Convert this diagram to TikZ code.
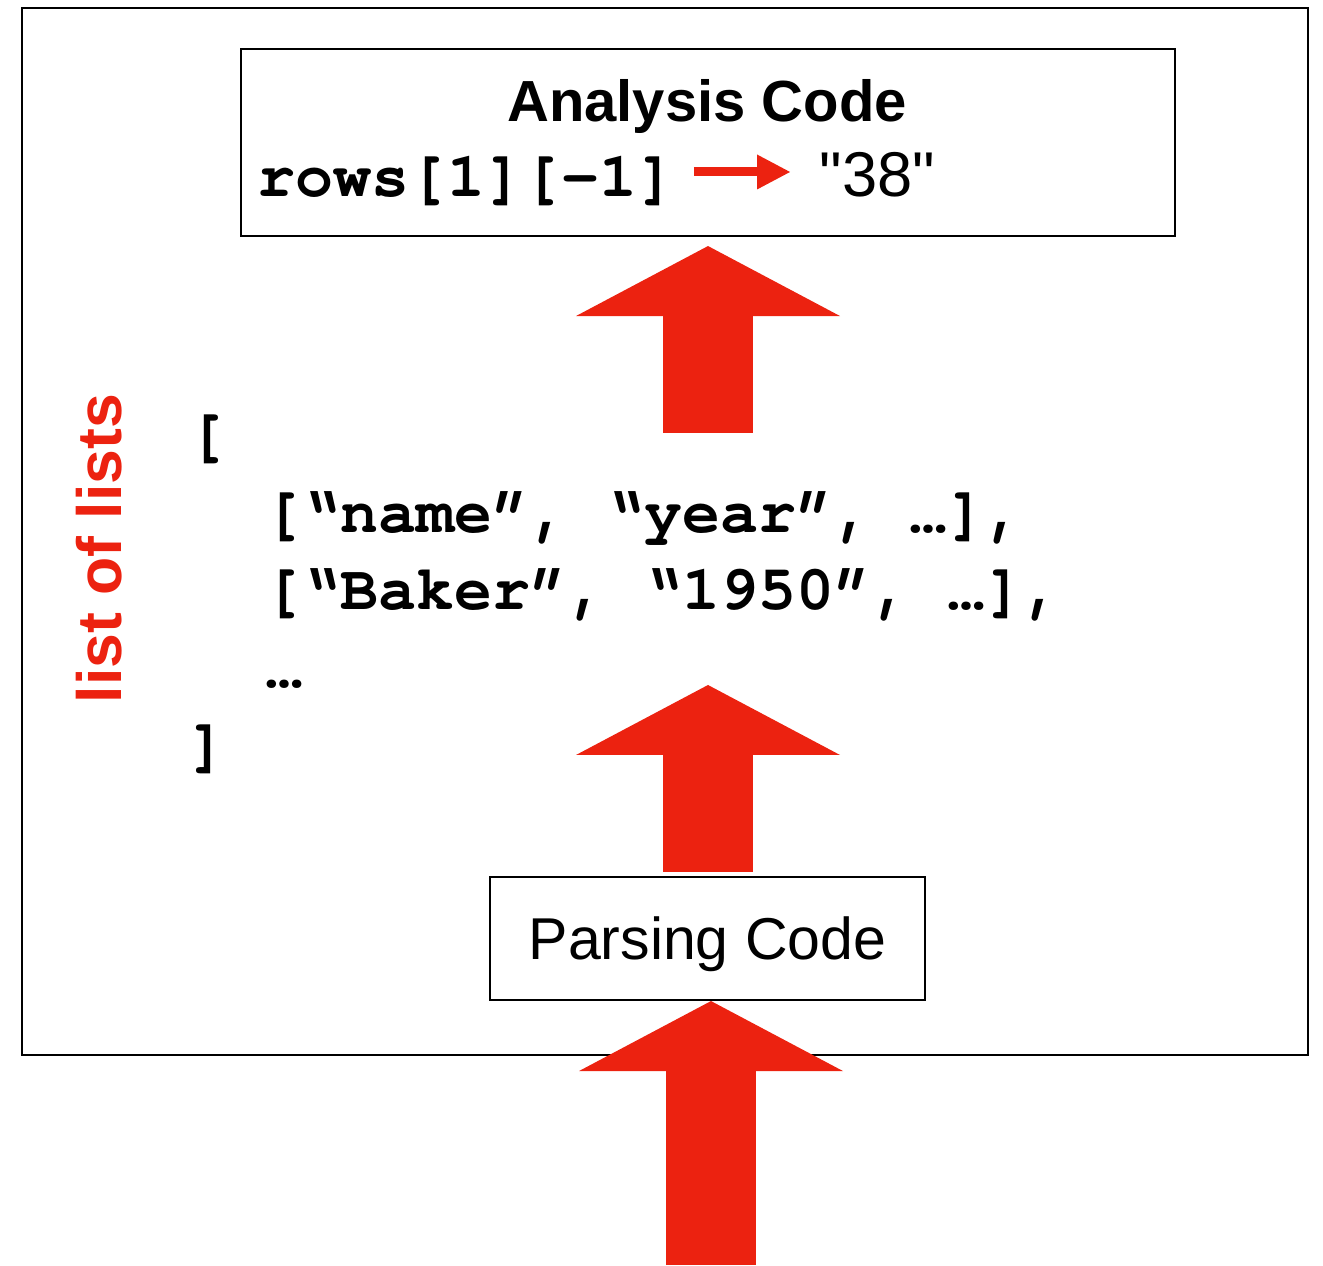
\documentclass[tikz,border=0pt]{standalone}
\usepackage{fontspec}
\setmainfont{Liberation Sans}
\newfontfamily\valfont{Liberation Sans}[Ligatures=TeXOff]
\newfontfamily\codefont{texgyrecursor}[Extension=.otf, UprightFont=*-regular, BoldFont=*-bold, Ligatures=TeXOff]
\usetikzlibrary{arrows.meta}

\definecolor{arrowred}{RGB}{236,34,16}

\tikzset{
  box/.style={draw, line width=0.6pt, inner sep=0pt},
  code/.style={anchor=base west, inner sep=0pt, font=\codefont\bfseries\fontsize{18}{20}\selectfont},
  bigarrow/.style={draw=arrowred, line width=0.9cm, -{Triangle[length=0.7cm, width=2.64cm, line width=0pt]}},
  smallarrow/.style={draw=arrowred, line width=0.09cm, -{Triangle[length=0.33cm, width=0.35cm, line width=0pt]}}
}

\begin{document}
\begin{tikzpicture}
\useasboundingbox (0,0) rectangle (13.23,12.65);
% outer frame
\draw[line width=0.6pt] (0.22,2.10) rectangle (13.08,12.57);

% analysis box
\node[box, minimum width=9.34cm, minimum height=1.87cm] (analysis) at (7.08,11.225) {};
\node[anchor=base, inner sep=0pt, font=\bfseries\fontsize{16.5}{18}\selectfont] (atitle) at (7.07,11.43) {Analysis Code};
\node[code] (rows) at (2.57,10.68) {rows[1][-1]};
\node[anchor=base west, inner sep=0pt, font=\valfont\fontsize{18}{20}\selectfont] (val) at (8.19,10.68) {"38"};
\draw[smallarrow] ([shift={(0.18,0.25)}]rows.base east) -- ([shift={(-0.29,0.25)}]val.base west);

% list of lists
\node[rotate=90, anchor=base, inner sep=0pt, text=arrowred, font=\bfseries\fontsize{17.8}{20}\selectfont] (lol) at (1.21,7.165) {list of lists};
\node[code] (open) at (1.88,8.10) {[};
\node[code] (row1) at (2.64,7.32) {[“name”, “year”, …],};
\node[code] (row2) at (2.64,6.55) {[“Baker”, “1950”, …],};
\node[code] (dots) at (2.65,5.77) {…};
\node[code] (close) at (1.88,5.00) {]};

% parsing box
\node[box, minimum width=4.35cm, minimum height=1.23cm, text depth=0pt, font=\fontsize{16.8}{18}\selectfont] (parse) at (7.075,3.265) {Parsing Code};

% big arrows
\coordinate (src) at (7.11,0);
\coordinate (up1) at (7.08,8.32);
\coordinate (up2) at (7.08,5.80);
\draw[bigarrow] (src) -- (src |- parse.south);
\draw[bigarrow] ([yshift=0.04cm]parse.north -| up2) -- (up2);
\draw[bigarrow] (up1) -- ([yshift=-0.09cm]analysis.south -| up1);
\end{tikzpicture}
\end{document}
